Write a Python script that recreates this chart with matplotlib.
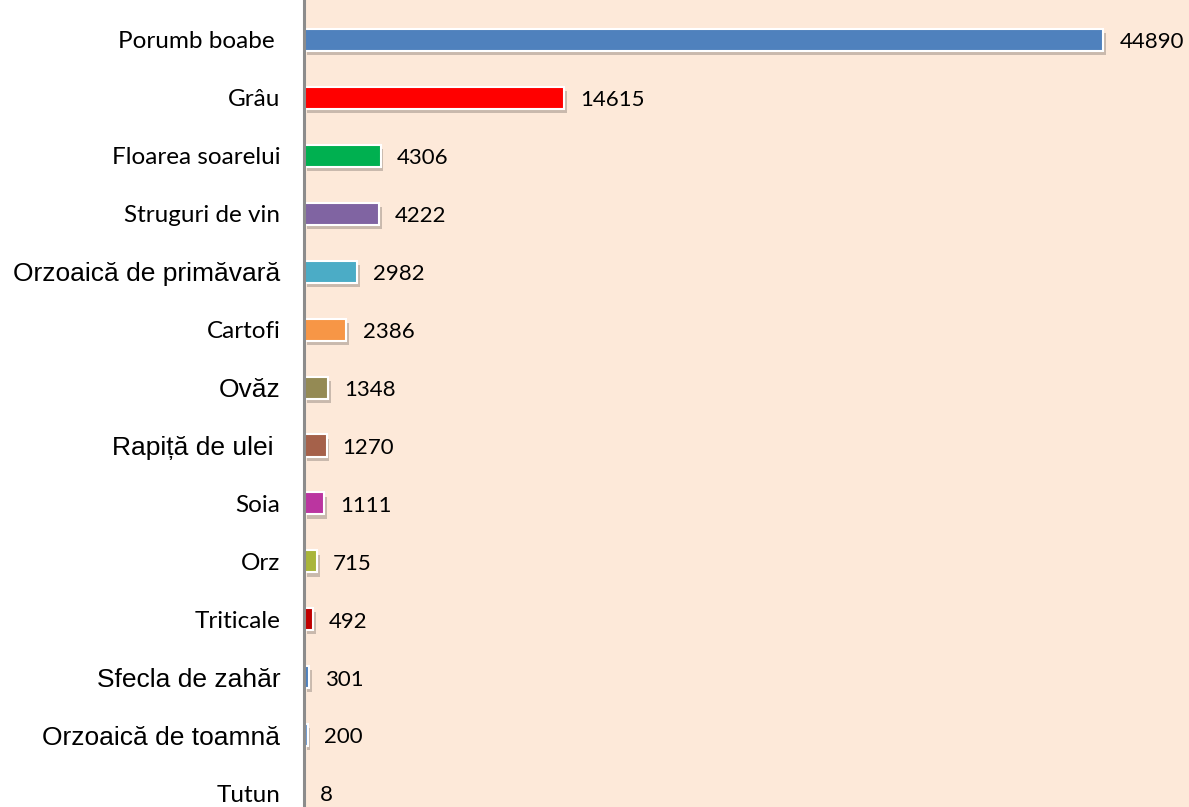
import matplotlib.pyplot as plt
import matplotlib.patheffects as pe
import numpy as np

crops = ['Porumb boabe ', 'Grâu', 'Floarea soarelui', 'Struguri de vin',
         'Orzoaică de primăvară', 'Cartofi', 'Ovăz', 'Rapiță de ulei ',
         'Soia', 'Orz', 'Triticale', 'Sfecla de zahăr', 'Orzoaică de toamnă',
         'Tutun']
values = [44890, 14615, 4306, 4222, 2982, 2386, 1348, 1270, 1111, 715, 492,
          301, 200, 8]
colors = ['#4F81BD', '#FF0000', '#00B050', '#8064A2', '#4BACC6', '#F79646',
          '#948A54', '#A5614A', '#BB35A0', '#A9B53A', '#C00000', '#4F81BD',
          '#6F9BD1', '#4F81BD']
# labels that were typed in a different font in the original chart
arial_labels = {'Orzoaică de primăvară', 'Ovăz', 'Rapiță de ulei ',
                'Sfecla de zahăr', 'Orzoaică de toamnă'}

fig = plt.figure(figsize=(11.89, 8.07), dpi=100)
ax = fig.add_axes([304 / 1189, 0, 1 - 304 / 1189, 1])
ax.set_facecolor('#FDE9D9')

y = np.arange(len(crops))
shadow = [pe.SimplePatchShadow(offset=(2, -3), shadow_rgbFace='#8a7f78', alpha=0.45),
          pe.Normal()]
bars = ax.barh(y, values, height=0.38, color=colors, edgecolor='white',
               linewidth=1.5, path_effects=shadow)

for yi, v in zip(y, values):
    ax.text(v + 900, yi + 0.04, str(v), va='center', ha='left', fontsize=16,
            family='Lato')

ax.set_xlim(0, 49700)
ax.set_ylim(13.24, -0.69)
ax.set_xticks([])
ax.set_yticks(y)
ax.set_yticklabels(crops)
ax.tick_params(axis='y', length=0, pad=17)
for lab in ax.get_yticklabels():
    if lab.get_text() in arial_labels:
        lab.set_family('Liberation Sans')
        lab.set_fontsize(19)
    else:
        lab.set_family('Lato')
        lab.set_fontsize(17.5)

for s in ['top', 'right', 'bottom']:
    ax.spines[s].set_visible(False)
ax.spines['left'].set_color('#8c8c8c')
ax.spines['left'].set_linewidth(2.2)

fig.savefig('out.png', dpi=100, facecolor='white')
